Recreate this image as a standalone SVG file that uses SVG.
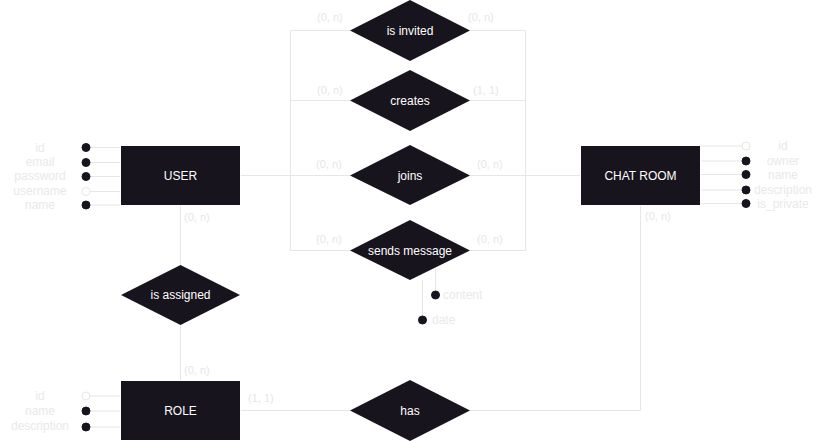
<svg xmlns="http://www.w3.org/2000/svg" width="823" height="441" viewBox="0 0 823 441">
<style>
text{font-family:"Liberation Sans",Arial,Helvetica,sans-serif}
.ent{fill:#18141d;stroke:#ffffff;stroke-width:1}
.rel{fill:#18141d}
.lbl{fill:#ffffff;font-size:12px;text-anchor:middle;dominant-baseline:central}
.att{fill:#e9e9e9;font-size:12px;text-anchor:middle;dominant-baseline:central}
.atl{fill:#e9e9e9;font-size:12px;text-anchor:start;dominant-baseline:central}
.card{fill:#e6e6e6;font-size:11px;dominant-baseline:central}
.ln{fill:none;stroke:#e6e6e6;stroke-width:1}
.dot{fill:#18141d;stroke:#18141d}
.hol{fill:#ffffff;stroke:#e6e6e6}
</style>
<g id="connectors">
<path class="ln" d="M240.5 175.5H290.5V30.5H350"/>
<path class="ln" d="M290.5 100.5H350"/>
<path class="ln" d="M240.5 175.5H350"/>
<path class="ln" d="M290.5 175.5V250.5H350"/>
<path class="ln" d="M580.5 175.5H525.5V30.5H470"/>
<path class="ln" d="M525.5 100.5H470"/>
<path class="ln" d="M580.5 175.5H470"/>
<path class="ln" d="M525.5 175.5V250.5H470"/>
<path class="ln" d="M180.5 205V265"/>
<path class="ln" d="M180.5 325V380"/>
<path class="ln" d="M240.5 410.5H350"/>
<path class="ln" d="M470 410.5H640.5V205"/>
<path class="ln" d="M86 147.5H121M86 162.5H121M86 176.5H121M86 191.5H121M86 205H121"/>
<path class="ln" d="M700 146H746M700 161H746M700 174.5H746M700 190H746M700 203.5H746"/>
<path class="ln" d="M86 396H121M86 411H121M86 427H121"/>
<path class="ln" d="M435.5 268V295M422.5 280V320"/>
</g>
<g class="card">
<text x="317" y="17">(0, n)</text>
<text x="468" y="17">(0, n)</text>
<text x="317" y="90">(0, n)</text>
<text x="473" y="90">(1, 1)</text>
<text x="316" y="164">(0, n)</text>
<text x="477" y="164">(0, n)</text>
<text x="316" y="239">(0, n)</text>
<text x="477" y="239">(0, n)</text>
<text x="184" y="217">(0, n)</text>
<text x="184" y="370">(0, n)</text>
<text x="645" y="216">(0, n)</text>
<text x="248" y="398">(1, 1)</text>
</g>
<g id="user">
<rect class="ent" x="120.5" y="145.5" width="120" height="60"/>
<text class="lbl" x="180.5" y="175.5">USER</text>
<circle class="dot" cx="86" cy="147.5" r="4"/>
<circle class="dot" cx="86" cy="162.5" r="4"/>
<circle class="dot" cx="86" cy="176.5" r="4"/>
<circle class="hol" cx="86" cy="191.5" r="4"/>
<circle class="dot" cx="86" cy="205" r="4"/>
<text class="att" x="40" y="147.5">id</text>
<text class="att" x="40" y="162">email</text>
<text class="att" x="40" y="176">password</text>
<text class="att" x="40" y="191">username</text>
<text class="att" x="40" y="204.5">name</text>
</g>
<g id="chatroom">
<rect class="ent" x="580.5" y="145.5" width="120" height="60"/>
<text class="lbl" x="640.5" y="175.5">CHAT ROOM</text>
<circle class="hol" cx="746" cy="146" r="4"/>
<circle class="dot" cx="746" cy="161" r="4"/>
<circle class="dot" cx="746" cy="174.5" r="4"/>
<circle class="dot" cx="746" cy="190" r="4"/>
<circle class="dot" cx="746" cy="203.5" r="4"/>
<text class="att" x="783" y="146">id</text>
<text class="att" x="783" y="161">owner</text>
<text class="att" x="783" y="174.5">name</text>
<text class="att" x="783" y="190">description</text>
<text class="att" x="783" y="203.5">is_private</text>
</g>
<g id="role">
<rect class="ent" x="120.5" y="380.5" width="120" height="60"/>
<text class="lbl" x="180.5" y="410.5">ROLE</text>
<circle class="hol" cx="86" cy="396" r="4"/>
<circle class="dot" cx="86" cy="411" r="4"/>
<circle class="dot" cx="86" cy="427" r="4"/>
<text class="att" x="40" y="396">id</text>
<text class="att" x="40" y="410.5">name</text>
<text class="att" x="40" y="426">description</text>
</g>
<g id="is_invited">
<polygon class="rel" points="410,0 470,30.5 410,61 350,30.5"/>
<text class="lbl" x="410" y="30.5">is invited</text>
</g>
<g id="creates">
<polygon class="rel" points="410,70 470,100.5 410,131 350,100.5"/>
<text class="lbl" x="410" y="100.5">creates</text>
</g>
<g id="joins">
<polygon class="rel" points="410,145 470,175.5 410,205 350,175.5"/>
<text class="lbl" x="410" y="175.5">joins</text>
</g>
<g id="sends_message">
<polygon class="rel" points="410,220 470,250.5 410,280 350,250.5"/>
<text class="lbl" x="410" y="250.5">sends message</text>
<circle class="dot" cx="435.5" cy="295" r="4"/>
<circle class="dot" cx="422.5" cy="320" r="4"/>
<text class="atl" x="443" y="295">content</text>
<text class="atl" x="432" y="320">date</text>
</g>
<g id="is_assigned">
<polygon class="rel" points="180.5,265 240,295 180.5,325 121,295"/>
<text class="lbl" x="180.5" y="295">is assigned</text>
</g>
<g id="has">
<polygon class="rel" points="410,380 470,410.5 410,441 350,410.5"/>
<text class="lbl" x="410" y="410.5">has</text>
</g>
</svg>
